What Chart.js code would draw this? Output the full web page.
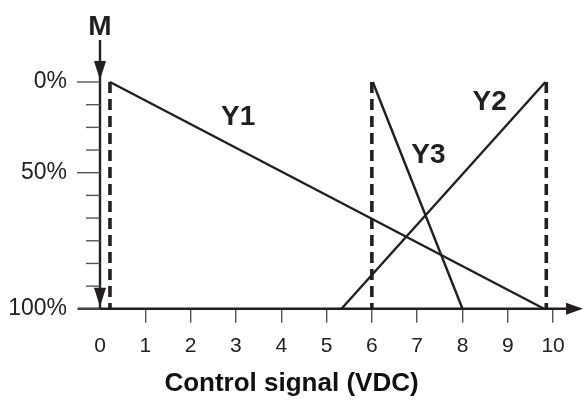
<!DOCTYPE html>
<html>
<head>
<meta charset="utf-8">
<script src="https://cdn.jsdelivr.net/npm/chart.js@4/dist/chart.umd.min.js"></script>
<style>
  body { margin: 0; background: #fff; }
  canvas { display: block; }
</style>
</head>
<body>
<canvas id="chart" width="586" height="406"></canvas>
<script>
// data (x in VDC, y in % of stroke, 0% at the top)
const y1Points = [{ x: 0.22, y: 0 }, { x: 9.8, y: 100 }];
const y2Points = [{ x: 5.33, y: 100 }, { x: 9.83, y: 0 }];
const y3Points = [{ x: 6.02, y: 0 }, { x: 8.0, y: 100 }];
const dashedAt = [0.22, 6.0, 9.85];

const xTickValues = [0, 1, 2, 3, 4, 5, 6, 7, 8, 9, 10];
const yTickValues = [0, 40, 100];
const yTickLabels = ['0%', '50%', '100%'];
const yMinorTicks = [0, 10, 20, 30, 40, 50, 60, 70, 80, 90, 100];
const yMajorTicks = [0, 40, 100];

const curveNames = ['Y1', 'Y2', 'Y3'];
const curveLabelX = [3.05, 8.6, 7.25];
const curveLabelY = [15.5, 9, 32.3];

const INK = '#231f20';
const FONT = "'Liberation Sans', Arial, sans-serif";

const datasets = [y1Points, y2Points, y3Points].map(pts => ({
    data: pts,
    borderColor: INK,
    borderWidth: 2.4,
    pointRadius: 0,
    showLine: true,
    clip: false
}));

dashedAt.forEach(x => {
    datasets.push({
        data: [{ x: x, y: 0 }, { x: x, y: 100 }],
        borderColor: INK,
        borderWidth: 3.6,
        borderDash: [11, 6],
        pointRadius: 0,
        showLine: true,
        clip: false
    });
});

// axis lines with arrows, y tick marks and the text labels
const axesPlugin = {
    id: 'axes',
    afterDatasetsDraw(chart) {
        const ctx = chart.ctx;
        const xs = chart.scales.x;
        const ys = chart.scales.y;
        const x0 = xs.getPixelForValue(0);
        const yTop = ys.getPixelForValue(0);
        const yBot = ys.getPixelForValue(100);
        ctx.save();
        ctx.strokeStyle = INK;
        ctx.fillStyle = INK;

        // y axis
        ctx.lineWidth = 2.4;
        ctx.beginPath();
        ctx.moveTo(x0, yTop - 42);
        ctx.lineTo(x0, yBot);
        ctx.stroke();
        [yTop - 2, yBot - 2].forEach(tip => {
            ctx.beginPath();
            ctx.moveTo(x0, tip);
            ctx.lineTo(x0 - 6, tip - 19);
            ctx.lineTo(x0 + 6, tip - 19);
            ctx.closePath();
            ctx.fill();
        });

        // x axis
        const xEnd = xs.right;
        ctx.beginPath();
        ctx.moveTo(x0 - 22, yBot);
        ctx.lineTo(xEnd - 14, yBot);
        ctx.stroke();
        ctx.beginPath();
        ctx.moveTo(xEnd, yBot);
        ctx.lineTo(xEnd - 17, yBot - 6);
        ctx.lineTo(xEnd - 17, yBot + 6);
        ctx.closePath();
        ctx.fill();

        // y tick marks
        ctx.strokeStyle = '#555';
        ctx.lineWidth = 1.4;
        yMinorTicks.forEach(v => {
            const py = ys.getPixelForValue(v);
            const len = yMajorTicks.includes(v) ? 23 : 14;
            ctx.beginPath();
            ctx.moveTo(x0 - len, py);
            ctx.lineTo(x0, py);
            ctx.stroke();
        });

        // M label
        ctx.fillStyle = INK;
        ctx.font = 'bold 28px ' + FONT;
        ctx.textAlign = 'center';
        ctx.textBaseline = 'middle';
        ctx.fillText('M', x0, yTop - 55);

        // curve names
        ctx.font = 'bold 28px ' + FONT;
        curveNames.forEach((name, i) => {
            ctx.fillText(name, xs.getPixelForValue(curveLabelX[i]), ys.getPixelForValue(curveLabelY[i]));
        });
        ctx.restore();
    }
};

new Chart(document.getElementById('chart'), {
    type: 'scatter',
    data: { datasets: datasets },
    options: {
        responsive: false,
        animation: false,
        layout: { padding: { top: 82, right: 3, left: 0, bottom: 0 } },
        plugins: {
            legend: { display: false },
            tooltip: { enabled: false },
            title: {
                display: true,
                position: 'bottom',
                text: 'Control signal (VDC)',
                color: '#111',
                font: { family: FONT, size: 26, weight: 'bold' },
                padding: { top: 5, bottom: 7 }
            }
        },
        scales: {
            x: {
                type: 'linear',
                min: 0,
                max: 10.66,
                afterBuildTicks: s => { s.ticks = xTickValues.map(v => ({ value: v })); },
                afterFit: s => { s.height = 54; },
                border: { display: false },
                grid: {
                    drawOnChartArea: false,
                    tickLength: 14,
                    lineWidth: 1.4,
                    color: c => (c.tick && c.tick.value === 0) ? 'rgba(0,0,0,0)' : '#555'
                },
                ticks: {
                    padding: 11,
                    color: '#222',
                    font: { family: FONT, size: 21 },
                    callback: v => String(v)
                }
            },
            y: {
                type: 'linear',
                reverse: true,
                min: 0,
                max: 100,
                afterBuildTicks: s => { s.ticks = yTickValues.map(v => ({ value: v })); },
                afterFit: s => { s.width = 100; },
                border: { display: false },
                grid: { display: false, drawTicks: false },
                ticks: {
                    padding: 33,
                    color: '#222',
                    font: { family: FONT, size: 23 },
                    callback: v => yTickLabels[yTickValues.indexOf(v)]
                }
            }
        }
    },
    plugins: [axesPlugin]
});
</script>
</body>
</html>
